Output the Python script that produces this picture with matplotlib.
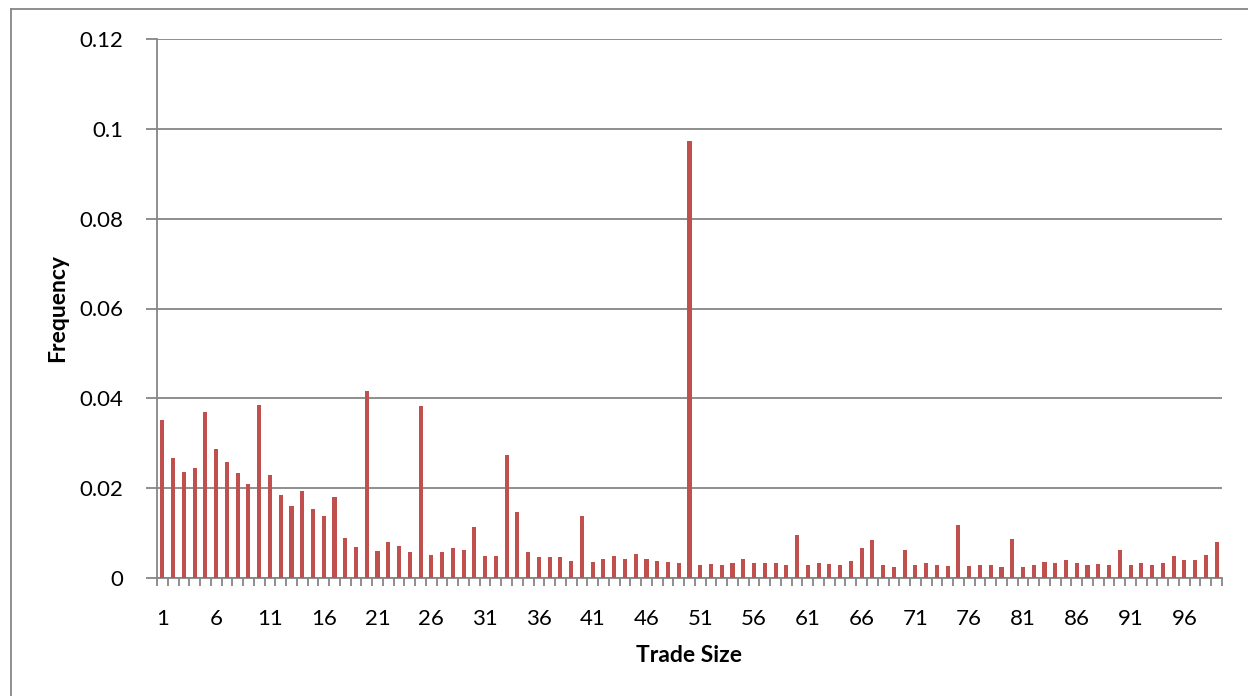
import numpy as np
import matplotlib.pyplot as plt
from matplotlib.lines import Line2D

plt.rcParams['font.family'] = ['Lato', 'DejaVu Sans']

trade_size = list(range(1, 100))
frequency = [
    0.0351, 0.0267, 0.0237, 0.0245, 0.0370, 0.0287, 0.0258, 0.0234, 0.0209, 0.0385,
    0.0229, 0.0184, 0.0160, 0.0194, 0.0154, 0.0138, 0.0181, 0.0089, 0.0068, 0.0417,
    0.0059, 0.0080, 0.0071, 0.0057, 0.0383, 0.0052, 0.0057, 0.0066, 0.0062, 0.0114,
    0.0049, 0.0048, 0.0274, 0.0146, 0.0057, 0.0046, 0.0047, 0.0046, 0.0037, 0.0137,
    0.0036, 0.0043, 0.0048, 0.0043, 0.0053, 0.0042, 0.0037, 0.0036, 0.0033, 0.0974,
    0.0030, 0.0032, 0.0030, 0.0033, 0.0043, 0.0033, 0.0034, 0.0034, 0.0030, 0.0095,
    0.0028, 0.0033, 0.0032, 0.0030, 0.0037, 0.0066, 0.0084, 0.0028, 0.0025, 0.0062,
    0.0030, 0.0033, 0.0028, 0.0026, 0.0117, 0.0027, 0.0030, 0.0028, 0.0024, 0.0087,
    0.0025, 0.0028, 0.0036, 0.0033, 0.0039, 0.0033, 0.0028, 0.0032, 0.0030, 0.0063,
    0.0030, 0.0033, 0.0030, 0.0033, 0.0048, 0.0039, 0.0039, 0.0051, 0.0080,
]
y_ticks = [0, 0.02, 0.04, 0.06, 0.08, 0.1, 0.12]

fig = plt.figure(figsize=(12.48, 6.96), dpi=100)
ax = fig.add_axes([157 / 1248, 1 - 578 / 696, (1222 - 157) / 1248, (578 - 39) / 696])

grid_col = '#868686'
ax.bar(trade_size, frequency, width=0.38, color='#C0504D', zorder=3)

ax.set_xlim(0.5, len(trade_size) + 0.5)
ax.set_ylim(0, 0.12)
ax.set_yticks(y_ticks)
ax.set_yticklabels(['%g' % v for v in y_ticks])
ax.yaxis.grid(True, color=grid_col, linewidth=1.3, zorder=0)

ax.set_xticks(trade_size[::5])
ax.set_xticklabels([str(v) for v in trade_size[::5]])
ax.set_xticks(np.arange(0.5, len(trade_size) + 1, 1), minor=True)
ax.tick_params(axis='x', which='major', length=0, pad=22, labelsize=16)
ax.tick_params(axis='x', which='minor', length=6, width=1.3, color=grid_col)
ax.tick_params(axis='y', length=8, width=1.3, color=grid_col, labelsize=16, pad=16)

for s in ['top', 'right']:
    ax.spines[s].set_visible(False)
for s in ['left', 'bottom']:
    ax.spines[s].set_color(grid_col)
    ax.spines[s].set_linewidth(1.3)

ax.set_xlabel('Trade Size', fontsize=16.5, fontweight='bold', labelpad=12)
ax.set_ylabel('Frequency', fontsize=16.5, fontweight='bold', labelpad=8)

# outer chart border
fig.add_artist(Line2D([11 / 1248, 11 / 1248], [0, 1 - 9 / 696], color=grid_col, linewidth=1.3))
fig.add_artist(Line2D([11 / 1248, 1], [1 - 9 / 696, 1 - 9 / 696], color=grid_col, linewidth=1.3))

plt.savefig('out.png', dpi=100)
plt.close()
